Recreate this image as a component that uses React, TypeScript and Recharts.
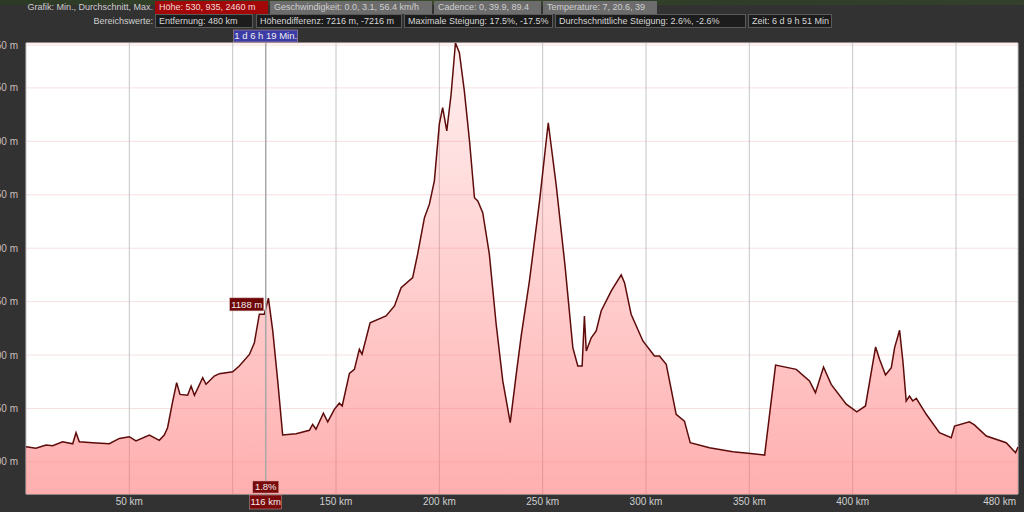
import React from 'react';
import { AreaChart, Area, XAxis, YAxis, CartesianGrid, ReferenceLine, ReferenceDot } from 'recharts';

// elevation profile (km along route / metres)
const distanceKm = [
  0, 4.8, 9.7, 12.9, 17.7, 22.6, 24.2, 25.8, 32.2, 40.3, 45.2, 50, 53.2, 59.7, 64.5, 66.9, 68.5, 71, 72.9, 74.5,
  78.2, 79.9, 81.5, 85.5, 87.1, 91.1, 93.6, 100, 103.2, 108.1, 110.5, 112.9, 115.3, 117.3, 119.4, 121.8, 124.2,
  130.7, 137.1, 138.7, 140.3, 143.9, 146, 149.2, 151.6, 153, 156.5, 158.9, 161.3, 162.6, 166.5, 174.2, 178.3,
  181.5, 187.1, 189.5, 192.8, 195.2, 197.6, 200, 201.6, 203.6, 205.7, 207.8, 209.7, 212.1, 214.6, 217, 218.6,
  221, 224.2, 227.5, 230.7, 234.3, 237.2, 239.6, 243.6, 248.5, 252.7, 256.5, 260.8, 264.6, 267, 269.1, 270.2,
  271.1, 273.5, 275.9, 278.3, 283.2, 288, 289.6, 292.8, 298.5, 304.1, 306.5, 309.8, 314.6, 318.6, 321.4, 330.7,
  342, 351.7, 357.4, 362.7, 372.7, 379.1, 382, 385.9, 389.6, 396.9, 402, 406.2, 411.1, 413, 415.9, 418.7, 420.3,
  422.7, 424.3, 425.9, 427.5, 429.1, 430.8, 435.6, 442, 447.7, 449.3, 456.5, 458.9, 464.7, 474.3, 478.8, 480,
];
const elevationM = [
  571, 564, 579, 576, 594, 585, 637, 594, 590, 585, 610, 618, 598, 626, 601, 626, 660, 785, 871, 816,
  812, 855, 812, 894, 863, 902, 913, 922, 949, 1003, 1058, 1191, 1191, 1266, 1113, 879, 626,
  632, 648, 676, 653, 728, 688, 746, 775, 762, 914, 933, 1027, 1004, 1151, 1183, 1230,
  1315, 1362, 1472, 1643, 1706, 1815, 2080, 2158, 2049, 2220, 2460, 2415, 2236, 2002, 1736, 1721,
  1666, 1472, 1144, 879, 684, 910, 1089, 1347, 1721, 2087, 1799, 1420, 1035, 949, 949, 1183,
  1019, 1081, 1113, 1206, 1300, 1375, 1339, 1191, 1066, 996, 996, 957, 723, 691, 590, 566,
  548, 538, 532, 953, 933, 879, 824, 944, 863, 770, 734, 762, 1038, 980, 907, 941, 1035,
  1116, 972, 785, 808, 785, 798, 723, 637, 613, 668, 688, 673, 621, 590, 543, 570,
];

const xTicks = [50, 100, 150, 200, 250, 300, 350, 400, 450, 480];
const hiddenXLabels = [100, 450]; // covered by the cursor box / end label in the original
const yTicks = [500, 750, 1000, 1250, 1500, 1750, 2000, 2250, 2450];

const cursorKm = 116;
const cursorElevation = 1188;
const cursorGrade = '1.8%';
const cursorTime = '1 d 6 h 19 Min.';

const statsTitle = 'Grafik: Min., Durchschnitt, Max.';
const statsTexts = [
  'Höhe: 530, 935, 2460 m',
  'Geschwindigkeit: 0.0, 3.1, 56.4 km/h',
  'Cadence: 0, 39.9, 89.4',
  'Temperature: 7, 20.6, 39',
];
const rangeTitle = 'Bereichswerte:';
const rangeTexts = [
  'Entfernung: 480 km',
  'Höhendifferenz: 7216 m, -7216 m',
  'Maximale Steigung: 17.5%, -17.5%',
  'Durchschnittliche Steigung: 2.6%, -2.6%',
  'Zeit: 6 d 9 h 51 Min',
];

const data = distanceKm.map((km, i) => ({ km, elevation: elevationM[i] }));

const FONT = '"Liberation Sans", Arial, sans-serif';
const HEAD_FONT_SIZE = 9;
const STATS_BOXES = [
  { left: 155, width: 113, bg: '#a30808', color: '#f0d8d8' },
  { left: 270, width: 162, bg: '#6c6c6c', color: '#cfcfcf' },
  { left: 434, width: 107, bg: '#6c6c6c', color: '#cfcfcf' },
  { left: 543, width: 114, bg: '#6c6c6c', color: '#cfcfcf' },
];
const RANGE_BOXES = [
  { left: 155, width: 98 },
  { left: 256, width: 146 },
  { left: 404, width: 149 },
  { left: 555, width: 191 },
  { left: 748, width: 84 },
];

function XTick({ x, y, payload }: any) {
  const v = payload.value;
  if (hiddenXLabels.includes(v)) return null;
  const last = v === xTicks[xTicks.length - 1];
  return (
    <text x={last ? x - 2 : x} y={y} dy="0.71em" textAnchor={last ? 'end' : 'middle'}
      fill="#cfcfcf" fontSize={10} fontFamily={FONT}>
      {v} km
    </text>
  );
}

function YTick({ x, y, payload }: any) {
  return (
    <text x={x} y={y} dy="0.35em" textAnchor="end" fill="#c9bcbc" fontSize={10} fontFamily={FONT}>
      {payload.value} m
    </text>
  );
}

function MarkBox({ cx, top, w, h, bg, text }: any) {
  return (
    <g>
      <rect x={cx - w / 2} y={top} width={w} height={h} fill={bg} stroke="#c9a0a0" strokeWidth={0.5} />
      <text x={cx} y={top + h / 2} dy="0.35em" textAnchor="middle" fill="#eeeeee" fontSize={9.5} fontFamily={FONT}>
        {text}
      </text>
    </g>
  );
}

function CursorMarks({ viewBox }: any) {
  const { x, y, height } = viewBox;
  const bottom = y + height;
  return (
    <g>
      <MarkBox cx={x} top={y - 13} w={64} h={12} bg="#3c3ca6" text={cursorTime} />
      <MarkBox cx={x} top={bottom - 13} w={26} h={12} bg="#7a0a0a" text={cursorGrade} />
      <MarkBox cx={x} top={bottom + 1} w={32} h={14} bg="#7a0a0a" text={`${cursorKm} km`} />
    </g>
  );
}

function ElevationMark({ viewBox }: any) {
  const { x, y } = viewBox;
  return <MarkBox cx={x - 19} top={y - 17} w={34} h={13} bg="#6e0606" text={`${cursorElevation} m`} />;
}

export default function App() {
  return (
    <div style={{ position: 'fixed', left: 0, top: 0, width: 1024, height: 512, background: '#323232', overflow: 'hidden', fontFamily: FONT }}>
      <div style={{ position: 'absolute', left: 0, top: 0, width: 1024, height: 5, background: 'linear-gradient(90deg, #2c3a26, #3b4a2c 40%, #2f3d28 70%, #34402b)' }} />

      <AreaChart width={1024} height={512} data={data} margin={{ top: 43, right: 6, bottom: 0, left: 0 }}>
        <defs>
          <linearGradient id="elevFill" gradientUnits="userSpaceOnUse" x1="0" y1="43" x2="0" y2="494">
            <stop offset="0%" stopColor="#ff7a7a" stopOpacity={0.12} />
            <stop offset="100%" stopColor="#ff7070" stopOpacity={0.56} />
          </linearGradient>
        </defs>
        <CartesianGrid vertical={false} stroke="#f6e0e0" fill="#ffffff" />
        <CartesianGrid horizontal={false} stroke="#c4c4c4" />
        <XAxis
          type="number"
          dataKey="km"
          domain={[0, 480]}
          ticks={xTicks}
          height={18}
          axisLine={false}
          tickLine={false}
          tickSize={4}
          tickMargin={0}
          tick={<XTick />}
          interval={0}
        />
        <YAxis
          type="number"
          domain={[350, 2460]}
          ticks={yTicks}
          width={26}
          axisLine={false}
          tickLine={false}
          tickSize={0}
          tickMargin={8}
          tick={<YTick />}
          interval={0}
          allowDataOverflow
        />
        <Area
          type="linear"
          dataKey="elevation"
          stroke="#5e0b0b"
          strokeWidth={1.5}
          fill="url(#elevFill)"
          fillOpacity={1}
          dot={false}
          activeDot={false}
          isAnimationActive={false}
        />
        <ReferenceLine x={cursorKm} stroke="#a8a8a8" strokeWidth={1.5} label={(p: any) => <CursorMarks {...p} />} />
        <ReferenceDot x={cursorKm} y={cursorElevation} r={0} stroke="none" fill="none" label={(p: any) => <ElevationMark {...p} />} />
      </AreaChart>

      {/* header rows */}
      <div style={{ position: 'absolute', left: 0, top: 1, width: 153, height: 13, lineHeight: '13px', fontSize: HEAD_FONT_SIZE, color: '#cfcfcf', textAlign: 'right', whiteSpace: 'nowrap' }}>
        {statsTitle}
      </div>
      {statsTexts.map((t, i) => (
        <div key={t} style={{ position: 'absolute', left: STATS_BOXES[i].left, top: 1, width: STATS_BOXES[i].width, height: 13, lineHeight: '13px', fontSize: HEAD_FONT_SIZE, background: STATS_BOXES[i].bg, color: STATS_BOXES[i].color, paddingLeft: 4, boxSizing: 'border-box', whiteSpace: 'nowrap', overflow: 'hidden' }}>
          {t}
        </div>
      ))}
      <div style={{ position: 'absolute', left: 0, top: 15, width: 153, height: 13, lineHeight: '13px', fontSize: HEAD_FONT_SIZE, color: '#cfcfcf', textAlign: 'right', whiteSpace: 'nowrap' }}>
        {rangeTitle}
      </div>
      {rangeTexts.map((t, i) => (
        <div key={t} style={{ position: 'absolute', left: RANGE_BOXES[i].left, top: 14, width: RANGE_BOXES[i].width, height: 14, lineHeight: '12px', fontSize: HEAD_FONT_SIZE, background: '#1c1c1c', border: '1px solid #5a5a5a', color: '#d6d6d6', paddingLeft: 3, boxSizing: 'border-box', whiteSpace: 'nowrap', overflow: 'hidden' }}>
          {t}
        </div>
      ))}
    </div>
  );
}
